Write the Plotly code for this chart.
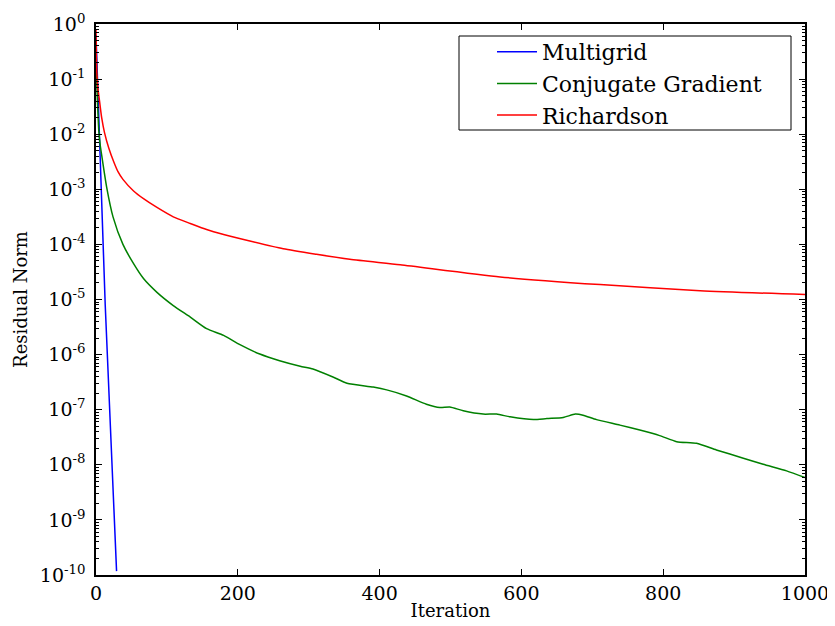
import numpy as np
import plotly.graph_objects as go

# residual norms, stored as log10 values
mg_iter = list(range(30))
mg_log = [-0.2, -0.6, -1.0, -1.5, -1.9, -2.3, -2.7, -3.0, -3.4, -3.7,
          -4.1, -4.4, -4.8, -5.1, -5.4, -5.7, -6.0, -6.3, -6.6, -6.9,
          -7.2, -7.5, -7.8, -8.1, -8.4, -8.7, -9.0, -9.3, -9.6, -9.93]

cg_iter = [0, 1, 2, 3, 4, 6, 8, 15, 24, 38, 53, 67, 86, 109, 133, 156, 180, 203,
           231, 259, 288, 306, 335, 354, 391, 410, 438, 466, 485, 499, 518,
           546, 565, 584, 617, 636, 659, 676, 687, 706, 739, 767, 795, 819,
           847, 875, 913, 941, 974, 1000]
cg_log = [-0.3, -1.0, -1.4, -1.7, -1.95, -2.2, -2.38, -2.96, -3.5, -4.0, -4.35, -4.62,
          -4.87, -5.11, -5.32, -5.53, -5.65, -5.82, -5.99, -6.11, -6.21, -6.26,
          -6.41, -6.52, -6.59, -6.64, -6.75, -6.90, -6.96, -6.95, -7.02, -7.08,
          -7.08, -7.13, -7.18, -7.16, -7.14, -7.08, -7.10, -7.18, -7.28, -7.37,
          -7.47, -7.58, -7.61, -7.73, -7.88, -7.99, -8.11, -8.23]

rich_iter = [0, 1, 2, 3, 5, 8, 12, 18, 25, 31, 38, 53, 67, 86, 109, 133, 156, 180,
             217, 264, 311, 358, 429, 570, 711, 852, 1000]
rich_log = [-0.1, -0.85, -1.05, -1.2, -1.4, -1.7, -1.97, -2.25, -2.5, -2.68, -2.82,
            -3.03, -3.17, -3.33, -3.50, -3.62, -3.73, -3.82, -3.94, -4.08,
            -4.18, -4.27, -4.37, -4.59, -4.73, -4.84, -4.91]

x_ticks = [0, 200, 400, 600, 800, 1000]
y_exps = list(range(0, -11, -1))

font = "DejaVu Serif"

fig = go.Figure()
fig.add_trace(go.Scatter(x=mg_iter, y=10 ** np.array(mg_log), mode="lines",
                         name="Multigrid", line=dict(color="#0000ff", width=1.5)))
fig.add_trace(go.Scatter(x=cg_iter, y=10 ** np.array(cg_log), mode="lines",
                         name="Conjugate Gradient",
                         line=dict(color="#008000", width=1.5, shape="spline", smoothing=0.6)))
fig.add_trace(go.Scatter(x=rich_iter, y=10 ** np.array(rich_log), mode="lines",
                         name="Richardson",
                         line=dict(color="#ff0000", width=1.5, shape="spline", smoothing=0.6)))

minor_vals = [m * 10.0 ** e for e in range(-10, 0) for m in range(2, 10)]

fig.update_xaxes(
    range=[0, 1000], tickvals=x_ticks, ticks="inside", ticklen=6,
    tickcolor="black", showline=True, linecolor="black", linewidth=1.5,
    mirror="allticks", showgrid=False, zeroline=False, automargin=False,
    tickfont=dict(family=font, size=19, color="black"),
    title=dict(text="Iteration", font=dict(family=font, size=18, color="black"), standoff=2),
)
fig.update_yaxes(
    type="log", range=[-10, 0],
    tickvals=[10.0 ** e for e in y_exps],
    ticktext=["10<sup>%d</sup>" % e for e in y_exps],
    ticks="inside", ticklen=6, tickcolor="black", ticklabelstandoff=5,
    minor=dict(tickvals=minor_vals, ticks="inside", ticklen=3, tickcolor="black", showgrid=False),
    showline=True, linecolor="black", linewidth=1.5, mirror="allticks",
    showgrid=False, zeroline=False, automargin=False,
    tickfont=dict(family=font, size=19, color="black"),
    title=dict(text="Residual Norm", font=dict(family=font, size=18, color="black"), standoff=8),
)

# legend frame drawn as a shape so it can have matplotlib-like padding
fig.add_shape(type="rect", xref="paper", yref="paper",
              x0=(459 - 96) / 709, x1=(791 - 96) / 709,
              y0=(575 - 130) / 551, y1=(575 - 36) / 551,
              line=dict(color="black", width=1), fillcolor="white", layer="above")

# the page body adds an 8px offset, so the figure is 8px smaller than the window
fig.update_layout(
    width=827, height=618,
    margin=dict(l=88, r=30, t=16, b=51),
    paper_bgcolor="white", plot_bgcolor="white",
    showlegend=True,
    legend=dict(
        x=(492 - 96) / 709, y=(575 - 31) / 551, xanchor="left", yanchor="top",
        bgcolor="rgba(0,0,0,0)", borderwidth=0,
        font=dict(family=font, size=22, color="black"),
        tracegroupgap=0, itemwidth=40,
    ),
)

fig.write_html("out.html")
